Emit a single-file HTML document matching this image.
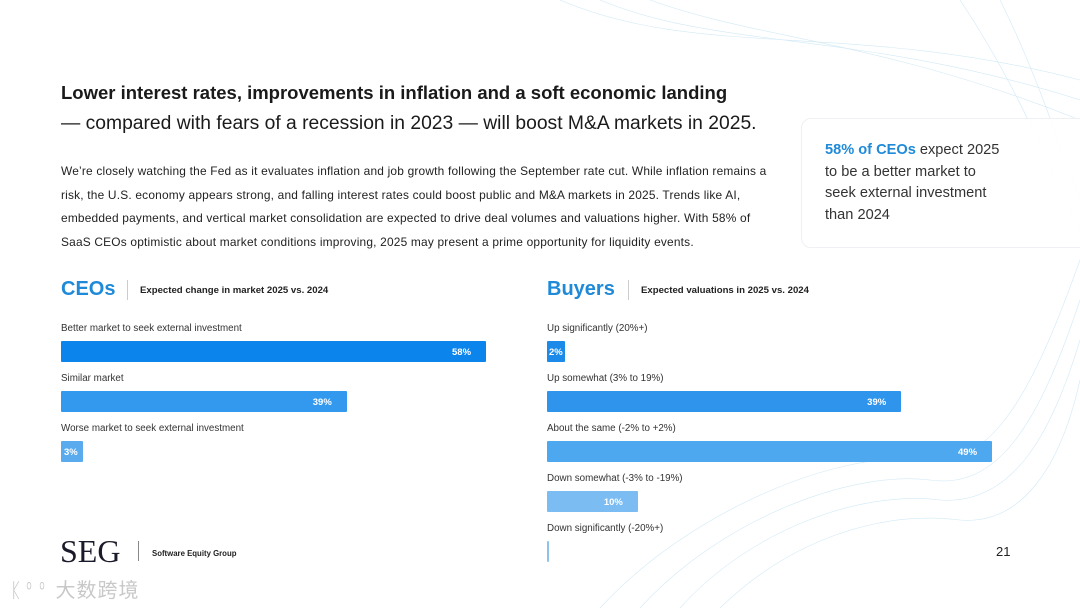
<!DOCTYPE html>
<html><head><meta charset="utf-8">
<style>
body{margin:0;width:1080px;height:608px;overflow:hidden;background:#fff;font-family:"Liberation Sans","Noto Sans CJK SC",sans-serif;color:#222;position:relative}
.abs{position:absolute}
.h1{left:61px;top:82px;font-size:18.5px;font-weight:bold;color:#1a1a1a;white-space:nowrap}
.h2{left:61px;top:113px;font-size:19.3px;color:#1a1a1a;white-space:nowrap}
.body{left:61px;top:160px;width:720px;font-size:11.9px;line-height:23.7px;color:#222;letter-spacing:0.2px}
.card{left:801px;top:118px;width:300px;height:128px;border:1px solid #eef0f3;border-radius:10px;background:rgba(255,255,255,0.9)}
.card p{margin:0;position:absolute;left:23px;top:21px;font-size:14.6px;line-height:21.5px;color:#333;width:185px}
.card b{color:#1f8ad8}
.ttl{font-size:20px;font-weight:bold;color:#1f8ad8}
.sub{font-size:9.6px;font-weight:bold;color:#222;white-space:nowrap}
.sep{width:1px;height:20px;background:#ccc}
.lbl{font-size:9.8px;color:#333;white-space:nowrap}
.bar{height:21px;border-radius:1px}
.val{font-size:9.5px;font-weight:bold;color:#fff;white-space:nowrap}
</style></head><body>
<svg class="abs" style="left:0;top:0" width="1080" height="608">
<g fill="none" stroke="#bfe0f2" stroke-width="0.6" opacity="0.7">
<path d="M560 0 C700 60 850 20 1080 80"/><path d="M600 0 C720 50 860 30 1080 100"/><path d="M650 0 C760 40 880 40 1080 120"/>
<path d="M640 608 C720 520 850 470 930 480 C1000 490 1040 420 1080 300"/><path d="M680 608 C750 530 860 490 940 500 C1010 505 1050 440 1080 340"/>
<path d="M720 608 C790 540 880 510 960 520 C1020 525 1060 470 1080 380"/><path d="M600 608 C690 510 840 450 920 460 C990 470 1030 400 1080 260"/>
<path d="M1000 0 C1040 80 1060 150 1080 200"/><path d="M960 0 C1020 90 1050 170 1080 230"/>
</g></svg>
<div class="abs h1">Lower interest rates, improvements in inflation and a soft economic landing</div>
<div class="abs h2">— compared with fears of a recession in 2023 — will boost M&amp;A markets in 2025.</div>
<div class="abs body">We’re closely watching the Fed as it evaluates inflation and job growth following the September rate cut. While inflation remains a risk, the U.S. economy appears strong, and falling interest rates could boost public and M&amp;A markets in 2025. Trends like AI, embedded payments, and vertical market consolidation are expected to drive deal volumes and valuations higher. With 58% of SaaS CEOs optimistic about market conditions improving, 2025 may present a prime opportunity for liquidity events.</div>
<div class="abs card"><p><b>58% of CEOs</b> expect 2025 to be a better market to seek external investment than 2024</p></div>

<div class="abs ttl" style="left:61px;top:278px">CEOs</div>
<div class="abs sep" style="left:127px;top:280px"></div>
<div class="abs sub" style="left:140px;top:285px">Expected change in market 2025 vs. 2024</div>
<div class="abs ttl" style="left:547px;top:278px">Buyers</div>
<div class="abs sep" style="left:628px;top:280px"></div>
<div class="abs sub" style="left:641px;top:285px">Expected valuations in 2025 vs. 2024</div>
<div id="charts"></div>

<div class="abs" style="left:60px;top:533px;font-family:'Liberation Serif',serif;font-size:32px;color:#1a1a2a">SEG</div>
<div class="abs sep" style="left:138px;top:541px;background:#888"></div>
<div class="abs" style="left:152px;top:549px;font-size:7.8px;font-weight:bold;color:#222">Software Equity Group</div>
<div class="abs" style="left:996px;top:544px;font-size:13px;color:#222">21</div>
<div class="abs" style="left:10px;top:574px;font-size:20px;color:#c8c8c8;letter-spacing:1px">ᛕ⁰⁰ 大数跨境</div>

<script>
const ceoCats=["Better market to seek external investment","Similar market","Worse market to seek external investment"];
const ceoVals=[58,39,3];
const ceoLabels=["58%","39%","3%"];
const buyerCats=["Up significantly (20%+)","Up somewhat (3% to 19%)","About the same (-2% to +2%)","Down somewhat (-3% to -19%)","Down significantly (-20%+)"];
const buyerVals=[2,39,49,10,0];
const buyerLabels=["2%","39%","49%","10%",""];

const ceoColors=["#0b84ec","#3399ee","#5aabee"];
const buyerColors=["#1c8ae8","#2f95ec","#4ea8f0","#7bbcf2","#8cc4ee"];
const root=document.getElementById('charts');
function xs(max,px){return v=>v/max*px;}
function draw(cats,vals,labels,colors,x0,scale,prefix){
  cats.forEach((c,i)=>{
    const y=321+i*50;
    const l=document.createElement('div');
    l.className='abs lbl';l.style.left=x0+'px';l.style.top=(y+2)+'px';l.textContent=c;
    
    
    root.appendChild(l);
    const w=Math.max(2,scale(vals[i]));
    const b=document.createElement('div');
    b.className='abs bar';b.style.left=x0+'px';b.style.top=(y+20)+'px';b.style.width=w+'px';b.style.background=colors[i];
    
    
    root.appendChild(b);
    if(labels[i]){
      const t=document.createElement('div');
      t.className='abs val';t.textContent=labels[i];
      t.style.top=(y+26)+'px';
      t.style.left=(x0+Math.max(w-34, 6))+'px';
      if(w<40){t.style.left=(x0+Math.max(2,(w-18)/2+1))+'px';}
      
      
      root.appendChild(t);
    }
  });
}
draw(ceoCats,ceoVals,ceoLabels,ceoColors,61,xs(58,425),'ceos');
draw(buyerCats,buyerVals,buyerLabels,buyerColors,547,xs(49,445),'buyers');
</script>
</body></html>
